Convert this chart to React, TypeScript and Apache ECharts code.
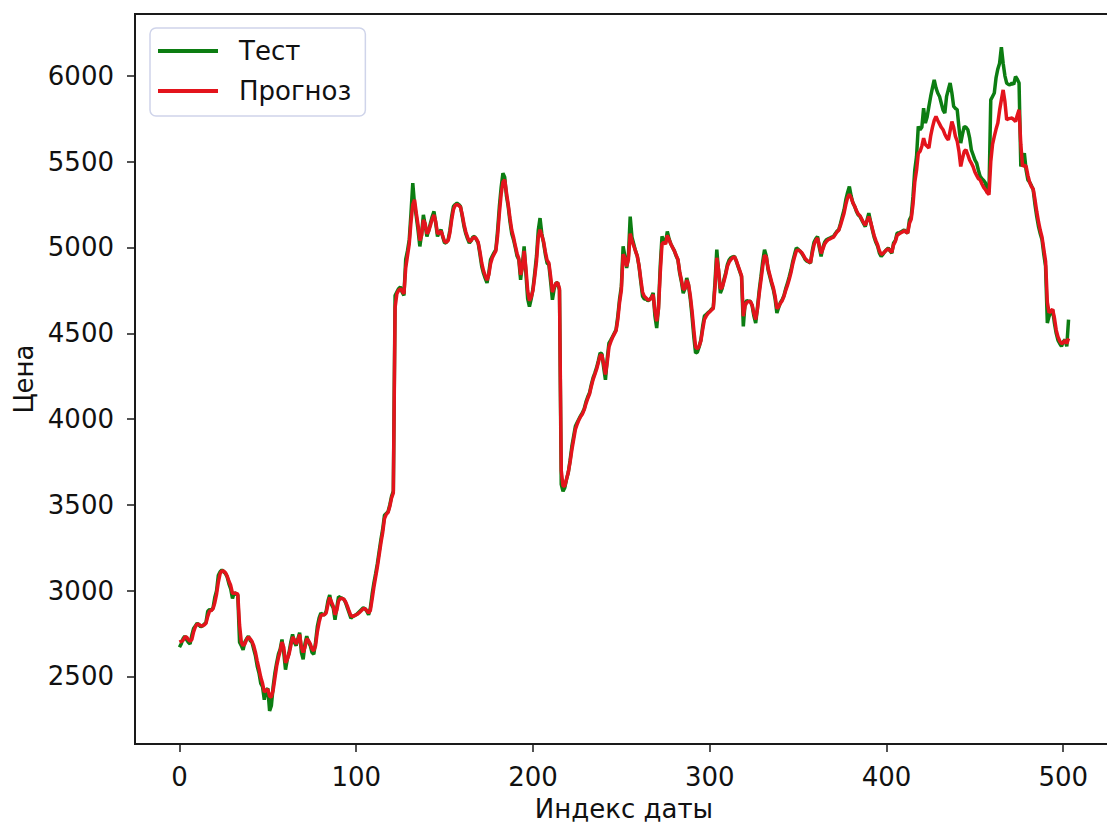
import React, { useEffect, useRef } from "react";
import * as echarts from "echarts";

// Price series by date index: actual test values and model forecast
const testValues: number[] = [
  2670, 2690, 2720, 2735, 2715, 2700, 2690, 2740, 2780, 2795,
  2810, 2800, 2790, 2795, 2805, 2815, 2880, 2890, 2885, 2900,
  2960, 3000, 3090, 3110, 3120, 3110, 3100, 3080, 3040, 3010,
  2955, 2990, 2980, 2975, 2700, 2680, 2655, 2700, 2720, 2735,
  2710, 2700, 2660, 2620, 2560, 2520, 2460, 2440, 2365, 2420,
  2430, 2300, 2330, 2440, 2520, 2580, 2630, 2660, 2715, 2640,
  2540, 2600, 2640, 2700, 2745, 2700, 2680, 2720, 2755, 2640,
  2600, 2690, 2735, 2700, 2680, 2640, 2630, 2700, 2790, 2840,
  2870, 2860, 2860, 2880, 2940, 2975, 2920, 2900, 2830, 2900,
  2965, 2960, 2955, 2950, 2930, 2900, 2870, 2840, 2850, 2855,
  2860, 2870, 2880, 2890, 2900, 2895, 2880, 2860, 2900, 2980,
  3045, 3100, 3160, 3230, 3300, 3360, 3440, 3450, 3460, 3500,
  3550, 3580, 4720, 4740, 4760, 4770, 4740, 4720, 4930, 4980,
  5045, 5200, 5375, 5250, 5180, 5100, 5006, 5080, 5190, 5130,
  5064, 5100, 5142, 5180, 5210, 5140, 5064, 5090, 5103, 5060,
  5026, 5030, 5045, 5100, 5180, 5239, 5250, 5258, 5250, 5239,
  5180, 5122, 5080, 5050, 5026, 5040, 5060, 5064, 5045, 5026,
  4960, 4890, 4850, 4820, 4793, 4850, 4928, 4950, 4970, 4987,
  5100, 5239, 5350, 5433, 5410, 5300, 5239, 5150, 5080, 5045,
  5000, 4950, 4928, 4812, 4900, 5006, 4850, 4700, 4656, 4700,
  4760, 4851, 4950, 5100, 5171, 5080, 5026, 4960, 4909, 4900,
  4800, 4695, 4760, 4793, 4794, 4750, 3620, 3579, 3600, 3650,
  3690, 3760, 3841, 3900, 3958, 3980, 4000, 4020, 4037, 4060,
  4100, 4130, 4153, 4200, 4240, 4268, 4300, 4340, 4385, 4380,
  4300, 4229, 4350, 4443, 4460, 4480, 4500, 4520, 4600, 4700,
  4773, 5006, 4950, 4880, 4950, 5180, 5060, 5020, 4980, 4950,
  4890, 4800, 4715, 4700, 4700, 4690, 4695, 4710, 4735, 4600,
  4530, 4650, 4890, 5064, 5040, 5025, 5093, 5050, 5020, 5000,
  4980, 4950, 4928, 4850, 4800, 4734, 4760, 4822, 4780, 4700,
  4598, 4480, 4385, 4390, 4420, 4462, 4540, 4600, 4610, 4620,
  4628, 4640, 4648, 4800, 4987, 4860, 4734, 4760, 4812, 4850,
  4900, 4928, 4940, 4945, 4948, 4920, 4890, 4860, 4830, 4540,
  4676, 4690, 4686, 4686, 4660, 4600, 4560, 4650, 4750, 4832,
  4920, 4987, 4950, 4870, 4830, 4790, 4754, 4700, 4618, 4650,
  4680, 4696, 4720, 4760, 4792, 4830, 4870, 4920, 4960, 4997,
  4990, 4980, 4967, 4950, 4930, 4920, 4915, 4909, 4980, 5030,
  5050, 5064, 5000, 4948, 5000, 5030, 5045, 5050, 5055, 5060,
  5064, 5080, 5095, 5103, 5140, 5181, 5220, 5278, 5320, 5355,
  5300, 5260, 5239, 5210, 5190, 5181, 5160, 5140, 5122, 5160,
  5200, 5150, 5103, 5060, 5030, 5006, 4967, 4948, 4960, 4975,
  4987, 4997, 4980, 4967, 5026, 5040, 5084, 5084, 5090, 5095,
  5103, 5090, 5084, 5161, 5181, 5297, 5450, 5530, 5705, 5686,
  5700, 5812, 5725, 5760, 5822, 5880, 5930, 5977, 5930, 5900,
  5880, 5840, 5800, 5783, 5880, 5920, 5958, 5900, 5822, 5810,
  5803, 5700, 5608, 5660, 5705, 5700, 5686, 5640, 5569, 5540,
  5510, 5492, 5450, 5414, 5400, 5390, 5375, 5317, 5330, 5860,
  5880, 5900, 5990, 6040, 6074, 6167, 6074, 6000, 5958, 5950,
  5948, 5958, 5950, 5996, 5980, 5958, 5472, 5500, 5550, 5450,
  5394, 5380, 5360, 5336, 5250, 5180, 5122, 5080, 5045, 4960,
  4890, 4560, 4600, 4620, 4637, 4560, 4501, 4460, 4440, 4424,
  4450, 4463, 4424, 4579,
];

const forecastValues: number[] = [
  2700, 2705, 2710, 2730, 2730, 2715, 2705, 2715, 2760, 2790,
  2805, 2805, 2795, 2795, 2800, 2810, 2850, 2880, 2885, 2895,
  2930, 2980, 3050, 3100, 3115, 3115, 3105, 3085, 3055, 3030,
  2985, 2985, 2985, 2980, 2800, 2700, 2680, 2690, 2715, 2730,
  2720, 2705, 2680, 2640, 2590, 2545, 2495, 2460, 2410, 2420,
  2425, 2385, 2380, 2420, 2490, 2560, 2610, 2650, 2700, 2670,
  2580, 2600, 2630, 2680, 2730, 2715, 2690, 2710, 2745, 2670,
  2640, 2670, 2720, 2710, 2690, 2660, 2650, 2680, 2760, 2815,
  2855, 2860, 2860, 2870, 2920, 2960, 2935, 2910, 2860, 2885,
  2940, 2955, 2955, 2950, 2935, 2910, 2880, 2855, 2850, 2855,
  2860, 2865, 2875, 2885, 2895, 2895, 2885, 2870, 2885, 2950,
  3020, 3080, 3140, 3210, 3280, 3340, 3420, 3445, 3455, 3490,
  3540, 3570, 4650, 4730, 4750, 4760, 4745, 4730, 4880, 4950,
  5020, 5150, 5250, 5278, 5200, 5130, 5040, 5070, 5160, 5140,
  5080, 5095, 5130, 5165, 5190, 5150, 5080, 5085, 5095, 5065,
  5035, 5030, 5040, 5085, 5160, 5220, 5245, 5250, 5245, 5235,
  5190, 5135, 5090, 5060, 5035, 5040, 5055, 5060, 5050, 5030,
  4975, 4910, 4865, 4835, 4810, 4840, 4905, 4940, 4960, 4980,
  5070, 5200, 5310, 5380, 5394, 5320, 5250, 5170, 5100, 5060,
  5010, 4965, 4935, 4840, 4880, 4980, 4880, 4750, 4690, 4710,
  4750, 4830, 4920, 5060, 5103, 5070, 5035, 4975, 4925, 4910,
  4830, 4740, 4770, 4790, 4795, 4760, 3700, 3610, 3610, 3650,
  3690, 3750, 3820, 3880, 3940, 3970, 3995, 4015, 4030, 4055,
  4090, 4120, 4145, 4190, 4230, 4260, 4290, 4330, 4370, 4375,
  4320, 4260, 4330, 4420, 4450, 4475, 4495, 4515, 4580, 4680,
  4750, 4960, 4940, 4890, 4930, 5080, 5040, 5010, 4980, 4950,
  4895, 4815, 4740, 4715, 4705, 4695, 4695, 4705, 4725, 4630,
  4570, 4640, 4850, 5020, 5030, 5020, 5070, 5045, 5020, 5000,
  4980, 4955, 4930, 4860, 4810, 4755, 4760, 4810, 4785, 4720,
  4630, 4520, 4420, 4410, 4425, 4455, 4520, 4580, 4600, 4615,
  4625, 4635, 4645, 4770, 4940, 4870, 4760, 4765, 4800, 4840,
  4890, 4915, 4930, 4940, 4945, 4925, 4895, 4865, 4835, 4600,
  4660, 4680, 4685, 4685, 4665, 4615, 4580, 4640, 4730, 4810,
  4890, 4955, 4945, 4880, 4840, 4800, 4765, 4715, 4645, 4655,
  4675, 4690, 4715, 4750, 4780, 4815, 4855, 4905, 4945, 4980,
  4985, 4980, 4970, 4955, 4935, 4925, 4918, 4912, 4965, 5015,
  5040, 5055, 5010, 4965, 4990, 5020, 5035, 5045, 5050, 5055,
  5060, 5075, 5090, 5100, 5130, 5165, 5200, 5250, 5290, 5310,
  5290, 5260, 5240, 5215, 5195, 5185, 5165, 5145, 5130, 5155,
  5180, 5150, 5110, 5070, 5040, 5015, 4980, 4960, 4965, 4975,
  4985, 4992, 4982, 4972, 5015, 5035, 5070, 5078, 5085, 5090,
  5098, 5090, 5085, 5140, 5165, 5250, 5380, 5450, 5549, 5560,
  5590, 5637, 5600, 5590, 5580, 5650, 5700, 5740, 5763, 5740,
  5720, 5700, 5686, 5660, 5640, 5627, 5680, 5734, 5700, 5647,
  5620, 5560, 5472, 5520, 5560, 5569, 5540, 5510, 5492, 5470,
  5440, 5420, 5400, 5394, 5370, 5350, 5336, 5320, 5308, 5500,
  5600, 5647, 5690, 5725, 5800, 5860, 5918, 5850, 5744, 5750,
  5752, 5754, 5745, 5734, 5770, 5802, 5600, 5472, 5480, 5472,
  5420, 5380, 5355, 5340, 5280, 5210, 5150, 5100, 5060, 4990,
  4920, 4680, 4620, 4630, 4640, 4590, 4520, 4480, 4455, 4440,
  4445, 4460, 4440, 4470,
];

const xTicks: number[] = [0, 100, 200, 300, 400, 500];
const yTicks: number[] = [2500, 3000, 3500, 4000, 4500, 5000, 5500, 6000];

const seriesNames = ["Тест", "Прогноз"];
const xName = "Индекс даты";
const yName = "Цена";

const FONT = "DejaVu Sans";
const INK = "#111111";
const SPINE = "#1a1a1a";

function toPoints(values: number[]): [number, number][] {
  return values.map((v, i) => [i, v]);
}

// matplotlib-like 5% padding around the data range
function padded(lo: number, hi: number): [number, number] {
  const span = hi - lo;
  return [lo - span * 0.05, hi + span * 0.05];
}

const plain = (v: number) => String(Math.round(v));

export default function App() {
  const ref = useRef<HTMLDivElement>(null);

  useEffect(() => {
    if (!ref.current) return;
    const chart = echarts.init(ref.current, undefined, { renderer: "svg" });

    const n = Math.max(testValues.length, forecastValues.length);
    const [xMin, xMax] = padded(0, n - 1);
    const all = testValues.concat(forecastValues);
    const [yMin, yMax] = padded(Math.min(...all), Math.max(...all));

    chart.setOption({
      animation: false,
      backgroundColor: "#ffffff",
      textStyle: { fontFamily: FONT },
      grid: {
        left: 135,
        top: 14,
        width: 978,
        height: 730,
        containLabel: false,
        outerBoundsMode: "none",
        show: true,
        borderColor: SPINE,
        borderWidth: 2,
        backgroundColor: "transparent",
      },
      legend: {
        left: 150,
        top: 28,
        orient: "vertical",
        data: seriesNames.map((name) => ({ name, icon: "rect" })),
        itemWidth: 60,
        itemHeight: 4,
        itemGap: 10,
        padding: [8, 14, 10, 8],
        backgroundColor: "#ffffff",
        borderColor: "#cfd4ea",
        borderWidth: 1.5,
        borderRadius: 6,
        textStyle: {
          fontFamily: FONT,
          fontSize: 26,
          color: INK,
          lineHeight: 30,
          padding: [0, 0, 0, 16],
        },
      },
      xAxis: {
        type: "value",
        min: xMin,
        max: xMax,
        name: xName,
        nameLocation: "middle",
        nameGap: 52,
        nameTextStyle: { fontFamily: FONT, fontSize: 26, lineHeight: 26, color: INK },
        axisLine: { show: true, onZero: false, lineStyle: { color: SPINE, width: 2 } },
        axisTick: {
          show: true,
          length: 8,
          customValues: xTicks,
          lineStyle: { color: SPINE, width: 1.5 },
        },
        axisLabel: {
          customValues: xTicks,
          formatter: plain,
          margin: 20,
          fontFamily: FONT,
          fontSize: 26,
          color: INK,
        },
        splitLine: { show: false },
      },
      yAxis: {
        type: "value",
        min: yMin,
        max: yMax,
        name: yName,
        nameLocation: "middle",
        nameGap: 94,
        nameRotate: 90,
        nameTextStyle: { fontFamily: FONT, fontSize: 26, color: INK },
        axisLine: { show: true, onZero: false, lineStyle: { color: SPINE, width: 2 } },
        axisTick: {
          show: true,
          length: 8,
          customValues: yTicks,
          lineStyle: { color: SPINE, width: 1.5 },
        },
        axisLabel: {
          customValues: yTicks,
          formatter: plain,
          margin: 21,
          fontFamily: FONT,
          fontSize: 26,
          color: INK,
        },
        splitLine: { show: false },
      },
      series: [
        {
          name: seriesNames[0],
          type: "line",
          data: toPoints(testValues),
          showSymbol: false,
          symbol: "none",
          color: "#0c7d12",
          lineStyle: { color: "#0c7d12", width: 3.5 },
          z: 2,
        },
        {
          name: seriesNames[1],
          type: "line",
          data: toPoints(forecastValues),
          showSymbol: false,
          symbol: "none",
          color: "#e3141c",
          lineStyle: { color: "#e3141c", width: 3.5 },
          z: 3,
        },
      ],
    });

    return () => chart.dispose();
  }, []);

  return (
    <div
      ref={ref}
      style={{ position: "absolute", left: 0, top: 0, width: 1107, height: 824 }}
    />
  );
}
